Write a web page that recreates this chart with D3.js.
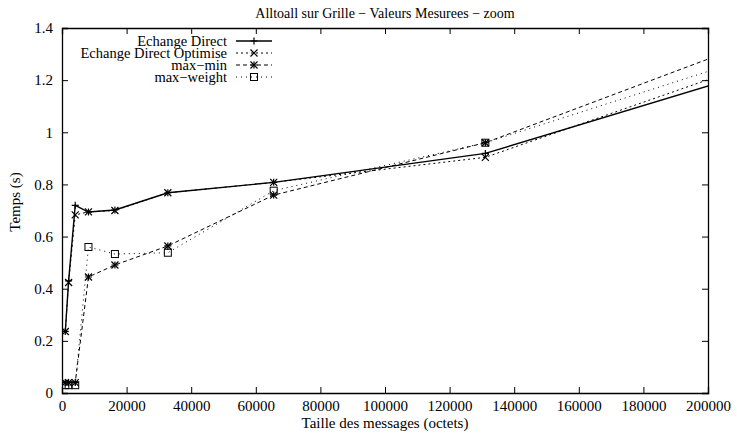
<!DOCTYPE html>
<html>
<head>
<meta charset="utf-8">
<script src="https://cdn.jsdelivr.net/npm/d3@7"></script>
<style>
  body { margin: 0; background: #fff; }
  text { font-family: "Liberation Serif", "DejaVu Serif", serif; fill: #000; }
</style>
</head>
<body>
<div id="wrapper"></div>
<script>
// message sizes (octets)
const sizes = [1024, 2048, 4096, 8192, 16384, 32768, 65536, 131072, 262144];

// measured times (s)
const echangeDirect = [0.236, 0.43, 0.72, 0.694, 0.702, 0.768, 0.808, 0.919, 1.41];
const echangeOptimise = [0.236, 0.424, 0.683, 0.695, 0.700, 0.768, 0.808, 0.904, 1.47];
const maxMin = [0.04, 0.04, 0.04, 0.445, 0.491, 0.564, 0.759, 0.960, 1.57];
const maxWeight = [0.03, 0.03, 0.03, 0.56, 0.533, 0.538, 0.776, 0.960, 1.48];

const xTicks = [0, 20000, 40000, 60000, 80000, 100000, 120000, 140000, 160000, 180000, 200000];
const yTicks = [0, 0.2, 0.4, 0.6, 0.8, 1, 1.2, 1.4];

const seriesNames = ["Echange Direct", "Echange Direct Optimise", "max-min", "max-weight"];

var width = 737, height = 433;
var margin = { left: 62, right: 29, top: 28, bottom: 40 };

var x = d3.scaleLinear().domain([0, 200000]).range([margin.left, width - margin.right]);
var y = d3.scaleLinear().domain([0, 1.4]).range([height - margin.bottom, margin.top]);

var svg = d3.select("#wrapper").append("svg")
  .attr("width", width)
  .attr("height", height);

svg.append("defs").append("clipPath").attr("id", "plot")
  .append("rect")
  .attr("x", x(0)).attr("y", y(1.4))
  .attr("width", x(200000) - x(0)).attr("height", y(0) - y(1.4));

// axes, ticks drawn inward and mirrored like gnuplot
var fmtY = function (d) { return String(+d.toFixed(1)); };
var axes = svg.append("g");
axes.append("g")
  .attr("transform", "translate(0," + y(0) + ")")
  .call(d3.axisBottom(x).tickValues(xTicks).tickSize(-6).tickPadding(7).tickFormat(d3.format("d")));
axes.append("g")
  .attr("transform", "translate(0," + y(1.4) + ")")
  .call(d3.axisTop(x).tickValues(xTicks).tickSize(-6).tickFormat(""));
axes.append("g")
  .attr("transform", "translate(" + x(0) + ",0)")
  .call(d3.axisLeft(y).tickValues(yTicks).tickSize(-6).tickPadding(9).tickFormat(fmtY));
axes.append("g")
  .attr("transform", "translate(" + x(200000) + ",0)")
  .call(d3.axisRight(y).tickValues(yTicks).tickSize(-6).tickFormat(""));

axes.selectAll("g")
  .attr("font-family", "Liberation Serif")
  .attr("font-size", 15);
axes.selectAll(".domain").attr("stroke", "#000").attr("stroke-width", 1.3);
axes.selectAll(".tick line").attr("stroke", "#000");
axes.selectAll(".tick text")
  .style("font-family", "'Liberation Serif', serif")
  .style("font-size", "15px")
  .attr("fill", "#000");

// titles
svg.append("text")
  .attr("x", 385).attr("y", 18)
  .attr("text-anchor", "middle")
  .style("font-size", "14px")
  .text("Alltoall sur Grille \u2212 Valeurs Mesurees \u2212 zoom");

svg.append("text")
  .attr("x", 385).attr("y", 428)
  .attr("text-anchor", "middle")
  .style("font-size", "15px")
  .text("Taille des messages (octets)");

svg.append("text")
  .attr("transform", "translate(20,202) rotate(-90)")
  .attr("text-anchor", "middle")
  .style("font-size", "15px")
  .text("Temps (s)");

// series styles
var styles = [
  { values: echangeDirect, dash: null, width: 1.4, marker: "plus" },
  { values: echangeOptimise, dash: "2,3", width: 1, marker: "cross" },
  { values: maxMin, dash: "4,3", width: 1, marker: "star" },
  { values: maxWeight, dash: "1,4", width: 1, marker: "square" }
];

var line = d3.line().x(function (d) { return x(d[0]); }).y(function (d) { return y(d[1]); });

function drawMarker(g, type, cx, cy) {
  var r = 3.5;
  if (type == "plus" || type == "star") {
    g.append("path").attr("d", "M" + (cx - r) + "," + cy + "H" + (cx + r) + "M" + cx + "," + (cy - r) + "V" + (cy + r))
      .attr("stroke", "#000").attr("stroke-width", 1.2);
  }
  if (type == "cross" || type == "star") {
    g.append("path").attr("d", "M" + (cx - r) + "," + (cy - r) + "L" + (cx + r) + "," + (cy + r) + "M" + (cx - r) + "," + (cy + r) + "L" + (cx + r) + "," + (cy - r))
      .attr("stroke", "#000").attr("stroke-width", 1.2);
  }
  if (type == "square") {
    g.append("rect").attr("x", cx - r).attr("y", cy - r).attr("width", 2 * r).attr("height", 2 * r)
      .attr("fill", "none").attr("stroke", "#000").attr("stroke-width", 1);
  }
}

var plot = svg.append("g").attr("clip-path", "url(#plot)");

styles.forEach(function (s) {
  var pts = sizes.map(function (v, i) { return [v, s.values[i]]; });
  plot.append("path")
    .attr("d", line(pts))
    .attr("fill", "none")
    .attr("stroke", "#000")
    .attr("stroke-width", s.width)
    .attr("stroke-dasharray", s.dash);
  pts.forEach(function (p) {
    if (p[0] <= 200000) drawMarker(plot, s.marker, x(p[0]), y(p[1]));
  });
});

// legend
var legend = svg.append("g");
var rowY = [41, 53, 65, 77];
styles.forEach(function (s, i) {
  legend.append("text")
    .attr("x", 227).attr("y", rowY[i] + 4.5)
    .attr("text-anchor", "end")
    .style("font-size", "14.5px")
    .text(seriesNames[i].replace("-", "\u2212"));
  legend.append("path")
    .attr("d", "M236," + rowY[i] + "H272")
    .attr("stroke", "#000")
    .attr("stroke-width", s.width)
    .attr("stroke-dasharray", s.dash);
  drawMarker(legend, s.marker, 254, rowY[i]);
});
</script>
</body>
</html>
